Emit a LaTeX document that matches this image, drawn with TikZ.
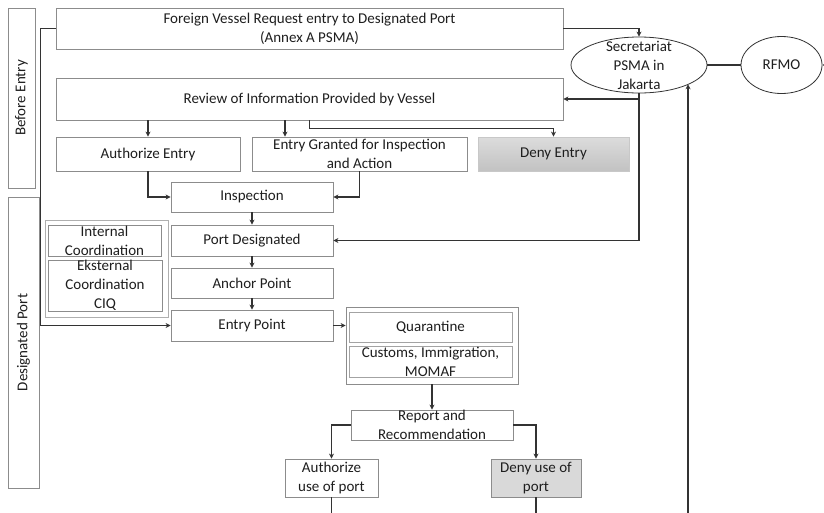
\documentclass[tikz,border=0pt]{standalone}
\usepackage{fontspec}
\setmainfont{Carlito}
\usetikzlibrary{arrows.meta,shapes.geometric,calc}

\definecolor{boxline}{HTML}{8C8C8C}
\definecolor{wire}{HTML}{333333}
\definecolor{inktext}{HTML}{1E1E1E}
\definecolor{denytop}{HTML}{DCDCDC}
\definecolor{denybot}{HTML}{C2C2C2}
\definecolor{denyline}{HTML}{C8C8C8}
\definecolor{softfill}{HTML}{D9D9D9}

\tikzset{
  every node/.style={font=\fontsize{15}{19}\selectfont, text=inktext},
  txt/.style={inner sep=0pt, align=center},
  box/.style={draw=boxline, line width=0.8pt, fill=white, inner sep=0pt,
              rectangle},
  panel/.style={box, rotate=90, align=center},
  denyshade/.style={box, draw=denyline, top color=denytop, bottom color=denybot},
  denysoft/.style={box, fill=softfill, draw=boxline},
  oval/.style={draw=wire, line width=0.8pt, ellipse, fill=white, inner sep=0pt},
  wireline/.style={draw=wire, line width=1.2pt},
  arr/.style={wireline, -{Stealth[length=5pt,width=5pt]}},
}

\begin{document}
\begin{tikzpicture}[x=1pt,y=-1pt]
  % canvas
  \fill[white] (0,0) rectangle (824,512);
  \useasboundingbox (0,0) rectangle (824,512);

  % phase panels
  \node[panel, minimum width=180, minimum height=27] (before) at (21.5,98) {Before Entry};
  \node[panel, minimum width=291, minimum height=31] (desig) at (23.5,342.5) {Designated Port};

  % request and review
  \node[box, minimum width=507, minimum height=41,
        label={[txt]center:Foreign Vessel Request entry to Designated Port\\(Annex A PSMA)}]
        (fv) at (309.5,28.5) {};
  \node[box, minimum width=507, minimum height=42,
        label={[txt]center:Review of Information Provided by Vessel}]
        (review) at (309.5,99) {};

  % entry decisions
  \node[box, minimum width=184, minimum height=34,
        label={[txt]center:Authorize Entry}] (auth) at (148,154) {};
  \node[box, minimum width=215, minimum height=34,
        label={[txt]center:Entry Granted for Inspection\\and Action}] (granted) at (359.5,154) {};
  \node[denyshade, minimum width=151, minimum height=34,
        label={[txt]center:Deny Entry}] (deny) at (553.5,154) {};

  % port steps
  \node[box, minimum width=162, minimum height=30,
        label={[txt]center:Inspection}] (insp) at (252,197) {};
  \node[box, minimum width=162, minimum height=31,
        label={[txt]center:Port Designated}] (portdes) at (252,240.5) {};
  \node[box, minimum width=162, minimum height=30,
        label={[txt]center:Anchor Point}] (anchorpt) at (252,283) {};
  \node[box, minimum width=162, minimum height=31,
        label={[txt]center:Entry Point}] (entry) at (252,325.5) {};

  % coordination group
  \node[box, draw=boxline!70, minimum width=123, minimum height=97] (coord) at (106.5,268.5) {};
  \node[box, minimum width=113, minimum height=31,
        label={[txt]center:Internal\\Coordination}] (internal) at (104.5,240.5) {};
  \node[box, minimum width=114, minimum height=51,
        label={[txt]center:Eksternal\\Coordination\\CIQ}] (ekst) at (105,285.5) {};

  % clearance group
  \node[box, minimum width=172, minimum height=77] (qgroup) at (432,345.5) {};
  \node[box, draw=boxline!80, minimum width=163, minimum height=30,
        label={[txt]center:Quarantine}] (quar) at (430.5,327) {};
  \node[box, draw=boxline!80, minimum width=163, minimum height=31,
        label={[txt]center:Customs, Immigration,\\MOMAF}] (customs) at (430.5,361.5) {};

  % outcome
  \node[box, minimum width=162, minimum height=30,
        label={[txt]center:Report and\\Recommendation}] (report) at (432,425) {};
  \node[box, minimum width=93, minimum height=38,
        label={[txt]center:Authorize\\use of port}] (authuse) at (331.5,478) {};
  \node[denysoft, minimum width=90, minimum height=38,
        label={[txt]center:Deny use of\\port}] (denyuse) at (536,478) {};

  % authorities
  \node[oval, minimum width=136, minimum height=56] (sec) at (639,65) {};
  \node[txt] (sectext) at (sec.center) {Secretariat\\PSMA in\\Jakarta};
  \node[oval, minimum width=81, minimum height=57] (rfmo) at (781.5,65) {};
  \node[txt] (rfmotext) at (rfmo.center) {RFMO};

  % free ends at the picture edge
  \coordinate (rfin) at (832,65);
  \coordinate (authend) at (331.5,514);
  \coordinate (denyend) at (536,514);
  \coordinate (feedbot) at (688,514);

  % connectors
  \draw[arr] (fv.east) -| (sec.north);
  \draw[wireline] (sec.east) -- (rfmo.west);
  \draw[arr] (rfin) -- (rfmo.east);
  \draw[arr] (sec.south) |- (portdes.east);
  \draw[arr] (sec.south |- review.east) -- (review.east);
  \draw[arr] (feedbot) -- (feedbot |- sec.-21.6);

  \draw[arr] ([xshift=-161.5pt]review.south) -- (auth.north);
  \draw[arr] ([xshift=-24.5pt]review.south) -- ([xshift=-74.5pt]granted.north);
  \draw[arr] (review.south) -- ++(0,8) -| (deny.north);

  \draw[arr] (auth.south) |- (insp.west);
  \draw[arr] (granted.south) |- (insp.east);
  \draw[arr] (insp.south) -- (portdes.north);
  \draw[arr] (portdes.south) -- (anchorpt.north);
  \draw[arr] (anchorpt.south) -- (entry.north);
  \draw[arr] (fv.west) -- ++(-15,0) |- (entry.west);

  \draw[arr] (entry.east) -- (entry.east -| qgroup.west);
  \draw[arr] (qgroup.south) -- (report.north);
  \draw[arr] (report.west) -| (authuse.north);
  \draw[arr] (report.east) -| (denyuse.north);
  \draw[wireline] (authuse.south) -- (authend);
  \draw[wireline] (denyuse.south) -- (denyend);
\end{tikzpicture}
\end{document}
